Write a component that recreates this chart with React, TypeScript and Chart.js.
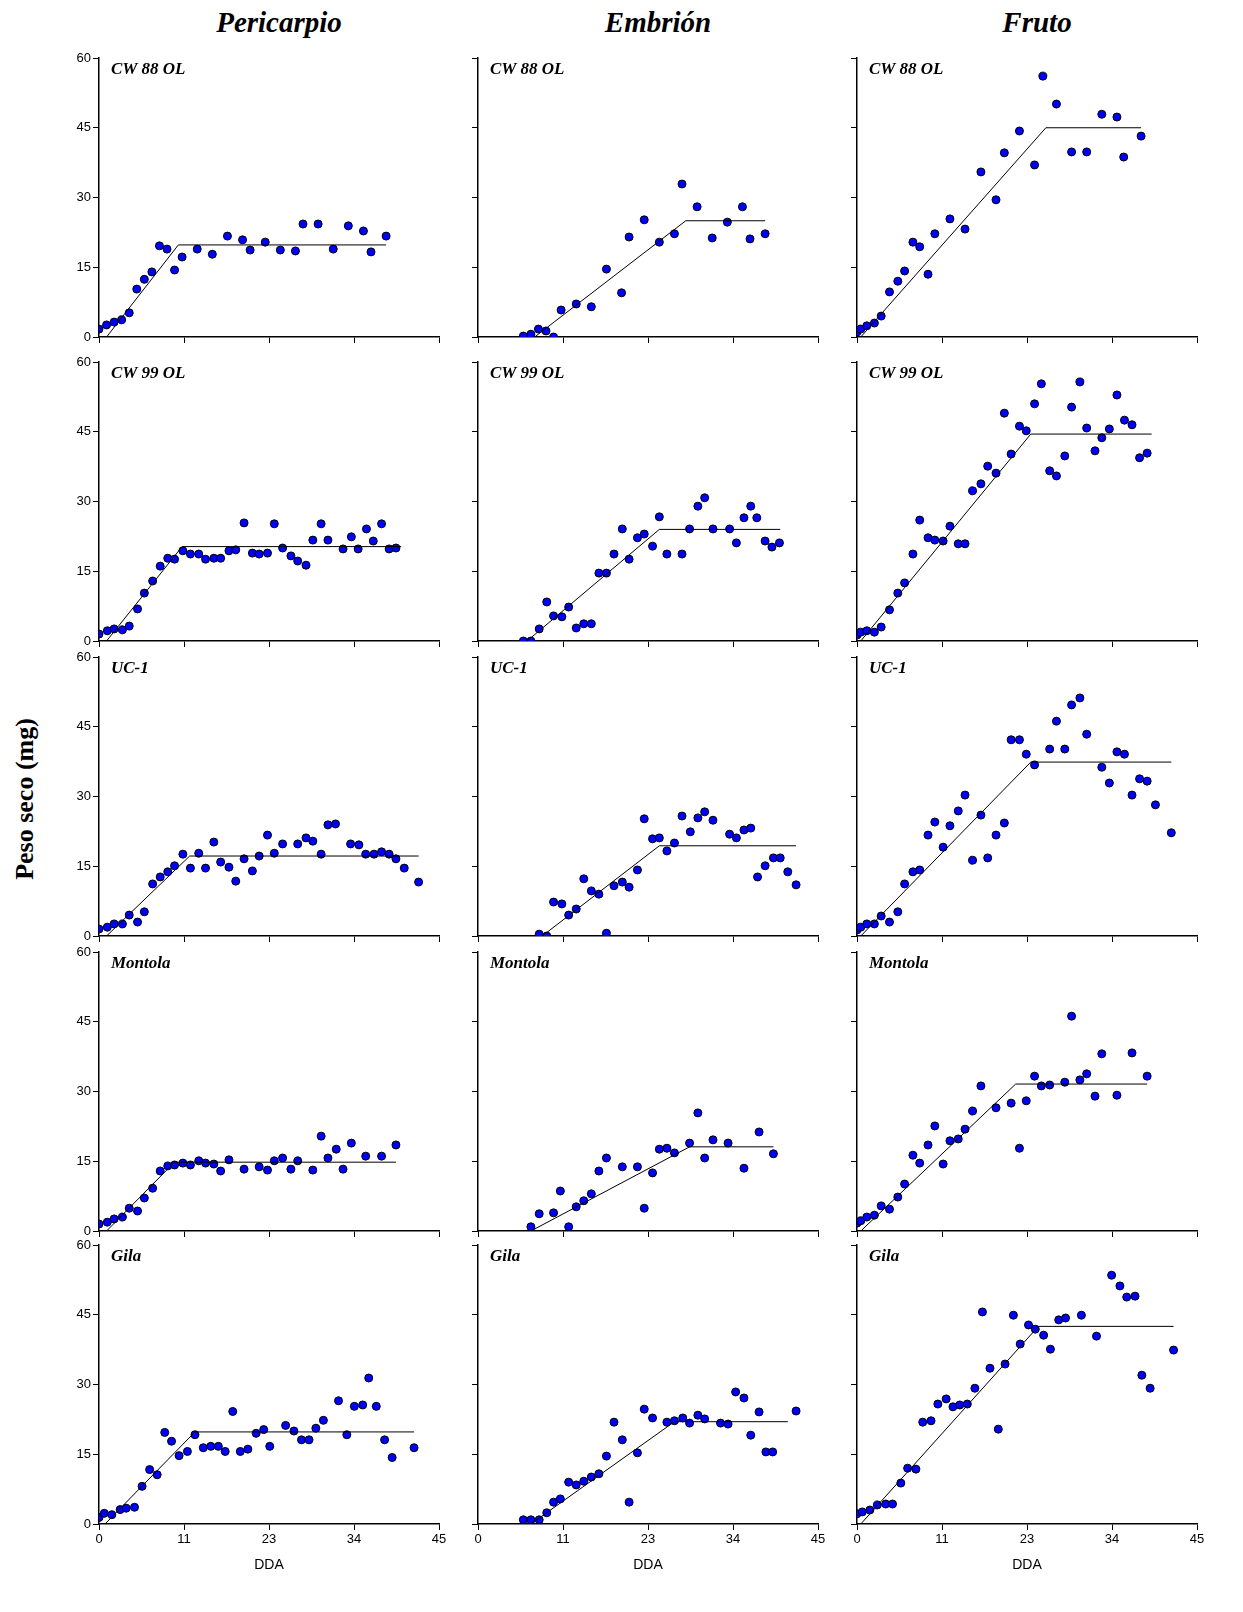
import { useEffect, useRef } from "react";
import { Chart, registerables } from "chart.js";

Chart.register(...registerables);

const columns = ["Pericarpio", "Embrión", "Fruto"];
const cultivars = ["CW 88 OL", "CW 99 OL", "UC-1", "Montola", "Gila"];
const yTicks = [0, 15, 30, 45, 60];

// [DDA, peso seco]
const perCW88 = [[0,1.7],[1,2.6],[2,3.2],[3,3.7],[4,5.2],[5,10.3],[6,12.4],[7,14],[8,19.6],[9,18.9],[10,14.4],[11,17.2],[13,18.9],[15,17.8],[17,21.7],[19,20.9],[20,18.7],[22,20.4],[24,18.7],[26,18.5],[27,24.3],[29,24.3],[31,18.9],[33,23.9],[35,22.8],[36,18.3],[38,21.7]];
const embCW88 = [[6,0.2],[7,0.6],[8,1.7],[9,1.3],[10,0],[11,5.8],[13,7.1],[15,6.5],[17,14.6],[19,9.5],[20,21.5],[22,25.2],[24,20.4],[26,22.2],[27,32.9],[29,28],[31,21.3],[33,24.7],[35,28],[36,21.1],[38,22.2]];
const fruCW88 = [[0,1.1],[0.5,1.7],[1.3,2.4],[2.3,3],[3.2,4.5],[4.3,9.7],[5.4,12],[6.3,14.2],[7.4,20.4],[8.3,19.4],[9.4,13.5],[10.3,22.2],[12.3,25.4],[14.3,23.2],[16.4,35.5],[18.4,29.5],[19.5,39.6],[21.5,44.3],[23.5,37],[24.6,56.1],[26.4,50.1],[28.4,39.8],[30.4,39.8],[32.4,47.9],[34.4,47.3],[35.3,38.7],[37.6,43.2]];

const perCW99 = [[0,1.5],[1.1,2.2],[2,2.6],[3.1,2.4],[4,3.2],[5.1,6.9],[6,10.3],[7.1,12.9],[8.1,16.1],[9.1,17.8],[10,17.6],[11.1,19.4],[12.1,18.7],[13.2,18.7],[14.1,17.6],[15.2,17.8],[16.1,17.8],[17.2,19.4],[18.1,19.6],[19.2,25.4],[20.3,18.9],[21.2,18.7],[22.3,18.9],[23.2,25.2],[24.3,20],[25.4,18.3],[26.3,17.2],[27.4,16.3],[28.3,21.7],[29.4,25.2],[30.3,21.7],[32.3,19.8],[33.4,22.4],[34.3,19.8],[35.4,24.1],[36.3,21.5],[37.4,25.2],[38.4,19.8],[39.3,20]];
const embCW99 = [[6,0],[7,0],[8.1,2.6],[9.1,8.4],[10,5.4],[11.1,5.2],[12,7.3],[13,2.8],[14,3.7],[15,3.7],[16,14.6],[17,14.6],[18,18.7],[19.1,24.1],[20,17.6],[21.1,22.2],[22,23],[23.1,20.4],[24,26.7],[25,18.7],[27,18.7],[28,24.1],[29.1,29],[30,30.8],[31.1,24.1],[33.3,24.1],[34.2,21.1],[35.2,26.5],[36.1,29],[36.9,26.5],[38,21.5],[38.9,20.2],[39.9,21.1]];
const fruCW99 = [[0,1.3],[0.5,1.9],[1.3,2.2],[2.3,1.9],[3.2,3],[4.3,6.7],[5.4,10.3],[6.3,12.5],[7.4,18.7],[8.3,26],[9.4,22.2],[10.3,21.7],[11.4,21.5],[12.3,24.7],[13.4,20.9],[14.3,20.9],[15.3,32.3],[16.4,33.8],[17.3,37.6],[18.4,36.1],[19.5,49],[20.4,40.2],[21.5,46.2],[22.4,45.2],[23.5,51],[24.4,55.3],[25.5,36.6],[26.4,35.5],[27.5,39.8],[28.4,50.3],[29.5,55.7],[30.4,45.8],[31.5,40.9],[32.4,43.7],[33.4,45.6],[34.4,52.9],[35.4,47.5],[36.4,46.5],[37.4,39.4],[38.4,40.4]];

const perUC1 = [[0,1.5],[1.1,1.9],[2,2.6],[3.1,2.6],[4,4.5],[5.1,3],[6,5.2],[7.1,11.2],[8.1,12.7],[9.1,13.8],[10,15.1],[11.1,17.6],[12.1,14.6],[13.2,17.8],[14.1,14.6],[15.2,20.2],[16.1,15.9],[17.2,14.8],[18.1,11.8],[19.2,16.6],[20.3,14],[21.2,17.2],[22.3,21.7],[23.2,17.8],[24.3,19.8],[26.3,19.8],[27.4,21.1],[28.3,20.4],[29.4,17.6],[30.3,23.9],[31.3,24.1],[33.3,19.8],[34.4,19.6],[35.3,17.6],[36.4,17.6],[37.4,18.1],[38.4,17.6],[39.3,16.6],[40.4,14.6],[42.3,11.6]];
const embUC1 = [[8.1,0.4],[9.1,0],[10,7.3],[11.1,6.9],[12,4.5],[13,5.8],[14,12.3],[15,9.7],[16,9],[17,0.6],[18,10.8],[19.1,11.6],[20,10.5],[21.1,14.2],[22,25.2],[23.1,20.9],[24,21.1],[25,18.3],[26,20],[27,25.8],[28.1,22.4],[29.1,25.4],[30,26.7],[31.1,24.9],[33.3,21.9],[34.2,21.1],[35.2,22.8],[36.1,23.2],[37,12.7],[38,15.1],[39.1,16.8],[40,16.8],[41,13.8],[42.1,11]];
const fruUC1 = [[0,1.3],[0.5,1.9],[1.3,2.6],[2.3,2.6],[3.2,4.3],[4.3,3],[5.4,5.2],[6.3,11.2],[7.4,13.8],[8.3,14.2],[9.4,21.7],[10.3,24.5],[11.4,19.1],[12.3,23.7],[13.4,26.9],[14.3,30.3],[15.3,16.3],[16.4,26],[17.3,16.8],[18.4,21.7],[19.5,24.3],[20.4,42.2],[21.5,42.2],[22.4,39.1],[23.5,36.8],[25.5,40.2],[26.4,46.2],[27.5,40.2],[28.4,49.7],[29.5,51.2],[30.4,43.4],[32.4,36.3],[33.4,32.9],[34.4,39.6],[35.4,39.1],[36.4,30.3],[37.4,33.8],[38.4,33.3],[39.5,28.2],[41.6,22.2]];

const perMontola = [[0,1.5],[1.1,1.9],[2,2.6],[3.1,3],[4,4.9],[5.1,4.3],[6,7.1],[7.1,9.2],[8.1,12.9],[9.1,14],[10,14.2],[11.1,14.6],[12.1,14.2],[13.2,15.1],[14.1,14.6],[15.2,14.4],[16.1,12.9],[17.2,15.3],[19.2,13.3],[21.2,13.8],[22.3,13.1],[23.2,15.1],[24.3,15.7],[25.4,13.3],[26.3,15.1],[28.3,13.1],[29.4,20.4],[30.3,15.7],[31.4,17.6],[32.3,13.3],[33.4,18.9],[35.3,16.1],[37.4,16.1],[39.3,18.5]];
const embMontola = [[7,0.9],[8.1,3.7],[10,3.9],[10.9,8.6],[12,0.9],[13,5.2],[14,6.5],[15,8],[16,12.9],[17,15.7],[19.1,13.8],[21.1,13.8],[22,4.9],[23.1,12.5],[24,17.6],[25,17.8],[26,16.8],[28,18.9],[29.1,25.4],[30,15.7],[31.1,19.6],[33.1,18.9],[35.2,13.5],[37.2,21.3],[39.1,16.6]];
const fruMontola = [[0,1.7],[0.5,2.2],[1.3,3],[2.3,3.4],[3.2,5.4],[4.3,4.7],[5.4,7.3],[6.3,10.1],[7.4,16.3],[8.3,14.6],[9.4,18.5],[10.3,22.6],[11.4,14.4],[12.3,19.4],[13.4,19.8],[14.3,21.9],[15.3,25.8],[16.4,31.2],[18.4,26.5],[20.4,27.5],[21.5,17.8],[22.4,28],[23.5,33.3],[24.4,31.2],[25.5,31.4],[27.5,32],[28.4,46.2],[29.5,32.5],[30.4,33.8],[31.5,29],[32.4,38.1],[34.4,29.2],[36.4,38.3],[38.4,33.3]];

const perGila = [[0,1.4],[0.7,2.3],[1.7,2],[2.8,3.1],[3.6,3.4],[4.7,3.6],[5.7,8.1],[6.7,11.7],[7.7,10.6],[8.7,19.7],[9.6,17.8],[10.6,14.7],[11.7,15.6],[12.7,19.2],[13.8,16.4],[14.8,16.7],[15.8,16.7],[16.7,15.6],[17.7,24.2],[18.7,15.6],[19.7,16.1],[20.8,19.5],[21.8,20.3],[22.6,16.7],[24.7,21.2],[25.8,20],[26.8,18.1],[27.8,18.1],[28.7,20.6],[29.7,22.3],[31.7,26.5],[32.8,19.2],[33.8,25.3],[34.9,25.6],[35.7,31.4],[36.7,25.3],[37.8,18.1],[38.8,14.3],[41.7,16.4]];
const embGila = [[6,0.9],[7,0.9],[8.1,0.9],[9.1,2.4],[10,4.7],[10.9,5.4],[12,9],[13,8.4],[14,9.2],[15,10.1],[16,10.8],[17,14.6],[18,21.9],[19.1,18.1],[20,4.7],[21.1,15.3],[22,24.7],[23.1,22.8],[25,21.9],[26,22.2],[27.1,22.8],[28,21.7],[29.1,23.4],[30,22.6],[32.1,21.7],[33.1,21.5],[34.1,28.4],[35.2,27.1],[36.1,19.1],[37.2,24.1],[38.1,15.5],[39,15.5],[42.1,24.3]];
const fruGila = [[0,2.2],[0.7,2.6],[1.7,3],[2.7,4.1],[3.8,4.3],[4.7,4.3],[5.8,8.8],[6.7,12],[7.8,11.8],[8.7,21.9],[9.8,22.2],[10.7,25.8],[11.8,26.9],[12.7,25.2],[13.6,25.6],[14.6,25.8],[15.6,29.2],[16.6,45.6],[17.6,33.5],[18.7,20.4],[19.6,34.4],[20.7,44.9],[21.6,38.7],[22.7,42.8],[23.6,41.9],[24.7,40.6],[25.6,37.6],[26.7,43.9],[27.6,44.3],[29.7,44.9],[31.7,40.4],[33.7,53.5],[34.8,51.2],[35.7,48.8],[36.8,49],[37.7,32],[38.8,29.2],[41.9,37.4]];

// fitted segmented line per panel: [start x, break x, plateau, end x]
const fitsPericarpio = [[1,10.5,19.8,38],[1,11,20.3,40],[1,12,17.2,42.3],[1,10,14.8,39.3],[0.8,12.7,19.8,41.7]];
const fitsEmbrion = [[7.5,27.5,25,38],[6.5,24,24,40],[8.5,24,19.4,42.1],[7,28,18.1,39.1],[7,26,22,41]];
const fitsFruto = [[0.5,25,45,37.6],[0.5,23,44.5,39],[0.5,23,37.4,41.6],[0.5,21,31.6,38.4],[0.5,24,42.5,41.9]];

const panelData = [
  [perCW88, embCW88, fruCW88],
  [perCW99, embCW99, fruCW99],
  [perUC1, embUC1, fruUC1],
  [perMontola, embMontola, fruMontola],
  [perGila, embGila, fruGila],
];
const panelFits = [fitsPericarpio, fitsEmbrion, fitsFruto];

const colAxisX = [99, 478, 857];
const rowTop = [58, 362, 657, 952, 1245];
const plotW = 340;
const plotH = 279;

const Panel = ({ row, col }) => {
  const ref = useRef<HTMLCanvasElement | null>(null);
  const yAxisW = col === 0 ? 40 : 10;
  const bottom = row === 4 ? 50 : 10;
  const left = colAxisX[col] - yAxisW;
  const top = rowTop[row] - 10;
  const w = yAxisW + plotW + 14;
  const h = 10 + plotH + bottom;

  useEffect(() => {
    const pts = panelData[row][col];
    const f = panelFits[col][row];
    const chart = new Chart(ref.current.getContext("2d"), {
      type: "scatter",
      data: {
        datasets: [
          {
            type: "line",
            data: [
              { x: f[0], y: 0 },
              { x: f[1], y: f[2] },
              { x: f[3], y: f[2] },
            ],
            borderColor: "#000",
            borderWidth: 1,
            pointRadius: 0,
            fill: false,
          },
          {
            data: pts.map((p) => ({ x: p[0], y: p[1] })),
            backgroundColor: "#0000ff",
            borderColor: "#000",
            borderWidth: 1,
            pointRadius: 4,
          },
        ],
      },
      options: {
        animation: false,
        responsive: false,
        layout: { padding: { top: 10, right: 14, left: 0, bottom: 0 } },
        plugins: { legend: { display: false }, tooltip: { enabled: false } },
        scales: {
          x: {
            type: "linear",
            min: 0,
            max: 45,
            afterBuildTicks: (s) => {
              s.ticks = [0, 11.25, 22.5, 33.75, 45].map((v) => ({ value: v }));
            },
            afterFit: (s) => {
              s.height = bottom;
            },
            ticks: {
              display: row === 4,
              callback: (v) => String(Math.round(Number(v))),
              color: "#000",
              font: { family: "Liberation Sans", size: 13 },
              padding: 2,
              maxRotation: 0,
            },
            title: {
              display: row === 4,
              text: "DDA",
              color: "#000",
              font: { family: "Liberation Sans", size: 14 },
              padding: 0,
            },
            grid: { drawOnChartArea: false, color: "#000", tickLength: 6 },
            border: { color: "#000", width: 1.5 },
          },
          y: {
            min: 0,
            max: 60,
            afterBuildTicks: (s) => {
              s.ticks = yTicks.map((v) => ({ value: v }));
            },
            afterFit: (s) => {
              s.width = yAxisW;
            },
            ticks: {
              display: col === 0,
              color: "#000",
              font: { family: "Liberation Sans", size: 13 },
              padding: 2,
            },
            grid: { drawOnChartArea: false, color: "#000", tickLength: 6 },
            border: { color: "#000", width: 1.5 },
          },
        },
      },
    });
    return () => chart.destroy();
  }, [row, col]);

  return (
    <>
      <canvas
        ref={ref}
        width={w}
        height={h}
        style={{ position: "absolute", left, top, width: w, height: h }}
      />
      <div
        style={{
          position: "absolute",
          left: colAxisX[col] + 12,
          top: rowTop[row] + 1,
          fontFamily: "Liberation Serif",
          fontStyle: "italic",
          fontWeight: "bold",
          fontSize: 17,
        }}
      >
        {cultivars[row]}
      </div>
    </>
  );
};

export default function App() {
  return (
    <div style={{ position: "relative", width: 1243, height: 1612, background: "#fff", margin: -8 }}>
      {columns.map((c, i) => (
        <div
          key={c}
          style={{
            position: "absolute",
            left: colAxisX[i] + 10,
            width: plotW,
            top: 6,
            textAlign: "center",
            fontFamily: "Liberation Serif",
            fontStyle: "italic",
            fontWeight: "bold",
            fontSize: 29,
          }}
        >
          {c}
        </div>
      ))}
      <div
        style={{
          position: "absolute",
          left: 25 - 120,
          top: 800 - 16,
          width: 240,
          textAlign: "center",
          transform: "rotate(-90deg)",
          fontFamily: "Liberation Serif",
          fontWeight: "bold",
          fontSize: 26,
        }}
      >
        Peso seco (mg)
      </div>
      {rowTop.map((_, r) =>
        columns.map((_, c) => <Panel key={r + "-" + c} row={r} col={c} />)
      )}
    </div>
  );
}
